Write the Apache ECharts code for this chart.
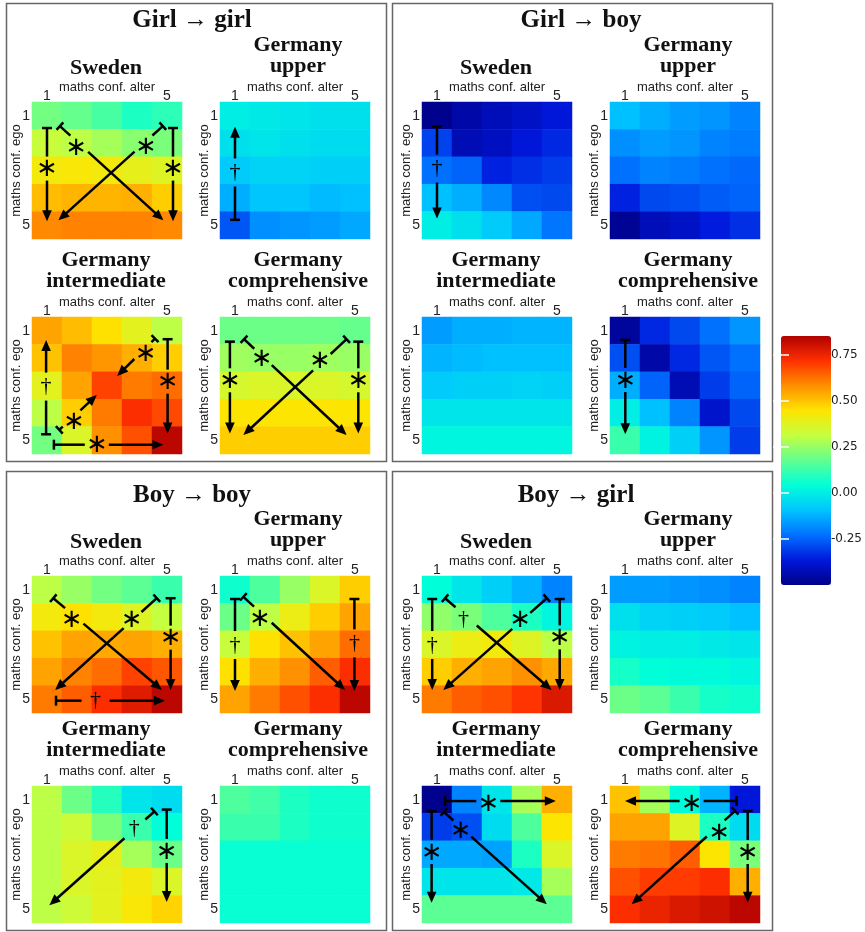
<!DOCTYPE html>
<html><head><meta charset="utf-8">
<script src="https://cdn.jsdelivr.net/npm/echarts@6/dist/echarts.min.js"></script>
<style>html,body{margin:0;padding:0;background:#fff}#c{width:865px;height:932px}</style>
</head><body><div id="c"></div>
<script>
// ---------- data ----------
const categories = ['1', '2', '3', '4', '5'];
const colorbarTicks = [-0.25, 0, 0.25, 0.5, 0.75];
const panelTitles = ['Girl → girl', 'Girl → boy', 'Boy → boy', 'Boy → girl'];
const mapTitles = ['Sweden', 'Germany\nupper', 'Germany\nintermediate', 'Germany\ncomprehensive'];

// rows = maths conf. ego 1..5, columns = maths conf. alter 1..5
const girlGirlSweden = [
  [0.20, 0.18, 0.14, 0.08, 0.10],
  [0.32, 0.30, 0.27, 0.23, 0.21],
  [0.42, 0.43, 0.42, 0.39, 0.37],
  [0.51, 0.52, 0.52, 0.53, 0.48],
  [0.59, 0.60, 0.60, 0.60, 0.59]];
const girlGirlUpper = [
  [0.00, -0.01, -0.02, -0.03, -0.03],
  [-0.03, -0.02, -0.03, -0.04, -0.04],
  [-0.08, -0.06, -0.06, -0.07, -0.07],
  [-0.13, -0.09, -0.09, -0.11, -0.10],
  [-0.27, -0.18, -0.17, -0.16, -0.14]];
const girlGirlIntermediate = [
  [0.55, 0.51, 0.45, 0.38, 0.30],
  [0.50, 0.60, 0.57, 0.53, 0.48],
  [0.38, 0.55, 0.69, 0.61, 0.63],
  [0.30, 0.48, 0.61, 0.72, 0.68],
  [0.20, 0.36, 0.58, 0.67, 0.83]];
const girlGirlComprehensive = [
  [0.19, 0.19, 0.19, 0.19, 0.18],
  [0.26, 0.25, 0.25, 0.26, 0.25],
  [0.35, 0.36, 0.36, 0.36, 0.35],
  [0.44, 0.44, 0.44, 0.44, 0.44],
  [0.48, 0.48, 0.48, 0.48, 0.48]];

const girlBoySweden = [
  [-0.49, -0.45, -0.42, -0.40, -0.37],
  [-0.30, -0.43, -0.41, -0.37, -0.34],
  [-0.23, -0.25, -0.35, -0.33, -0.31],
  [-0.10, -0.13, -0.19, -0.28, -0.29],
  [0.00, -0.03, -0.08, -0.14, -0.22]];
const girlBoyUpper = [
  [-0.10, -0.13, -0.16, -0.17, -0.20],
  [-0.18, -0.16, -0.17, -0.20, -0.21],
  [-0.23, -0.20, -0.21, -0.23, -0.24],
  [-0.35, -0.29, -0.28, -0.26, -0.25],
  [-0.48, -0.42, -0.40, -0.36, -0.33]];
const girlBoyIntermediate = [
  [-0.16, -0.13, -0.13, -0.12, -0.12],
  [-0.12, -0.11, -0.10, -0.10, -0.10],
  [-0.08, -0.07, -0.07, -0.06, -0.07],
  [-0.02, -0.02, -0.02, -0.02, -0.02],
  [0.02, 0.02, 0.02, 0.02, 0.02]];
const girlBoyComprehensive = [
  [-0.47, -0.34, -0.29, -0.23, -0.17],
  [-0.28, -0.45, -0.34, -0.27, -0.23],
  [-0.13, -0.25, -0.43, -0.31, -0.25],
  [0.00, -0.10, -0.20, -0.39, -0.29],
  [0.12, 0.01, -0.07, -0.17, -0.31]];

const boyBoySweden = [
  [0.30, 0.25, 0.20, 0.17, 0.12],
  [0.42, 0.45, 0.42, 0.37, 0.31],
  [0.50, 0.55, 0.54, 0.55, 0.53],
  [0.55, 0.60, 0.63, 0.69, 0.66],
  [0.61, 0.65, 0.72, 0.77, 0.83]];
const boyBoyUpper = [
  [0.06, 0.15, 0.25, 0.36, 0.48],
  [0.19, 0.30, 0.40, 0.48, 0.55],
  [0.32, 0.45, 0.50, 0.55, 0.63],
  [0.45, 0.53, 0.58, 0.65, 0.72],
  [0.55, 0.61, 0.67, 0.72, 0.83]];
const boyBoyIntermediate = [
  [0.30, 0.19, 0.09, -0.02, -0.04],
  [0.30, 0.33, 0.21, 0.12, 0.04],
  [0.30, 0.36, 0.39, 0.27, 0.19],
  [0.30, 0.36, 0.38, 0.42, 0.36],
  [0.30, 0.33, 0.38, 0.43, 0.47]];
const boyBoyComprehensive = [
  [0.15, 0.13, 0.08, 0.06, 0.06],
  [0.12, 0.12, 0.08, 0.06, 0.06],
  [0.05, 0.05, 0.05, 0.05, 0.05],
  [0.05, 0.05, 0.05, 0.05, 0.05],
  [0.05, 0.05, 0.05, 0.05, 0.05]];

const boyGirlSweden = [
  [0.04, -0.02, -0.07, -0.12, -0.20],
  [0.24, 0.21, 0.15, 0.08, 0.02],
  [0.36, 0.40, 0.42, 0.37, 0.30],
  [0.48, 0.53, 0.55, 0.58, 0.54],
  [0.61, 0.65, 0.67, 0.71, 0.78]];
const boyGirlUpper = [
  [-0.16, -0.16, -0.17, -0.18, -0.20],
  [-0.03, -0.06, -0.07, -0.08, -0.10],
  [0.01, 0.00, 0.00, -0.01, -0.02],
  [0.07, 0.04, 0.03, 0.03, 0.02],
  [0.19, 0.17, 0.12, 0.07, 0.06]];
const boyGirlIntermediate = [
  [-0.49, -0.20, -0.02, 0.27, 0.53],
  [-0.31, -0.28, -0.04, 0.15, 0.44],
  [-0.14, -0.14, -0.15, 0.08, 0.36],
  [-0.02, -0.02, -0.02, -0.01, 0.27],
  [0.17, 0.17, 0.17, 0.17, 0.17]];
const boyGirlComprehensive = [
  [0.50, 0.27, 0.03, -0.12, -0.37],
  [0.55, 0.55, 0.37, 0.08, -0.04],
  [0.61, 0.62, 0.65, 0.44, 0.21],
  [0.67, 0.70, 0.70, 0.72, 0.53],
  [0.72, 0.75, 0.78, 0.80, 0.83]];

// significance arrows, in cell-index units (x = alter index, y = ego index)
const ggSwedenMarks = [
  {from: [0, 0.45], to: [0, 3.85], mark: '*', at: [0, 1.93]},
  {from: [4.2, 0.45], to: [4.2, 3.85], mark: '*', at: [4.2, 1.93]},
  {from: [0.43, 0.38], to: [3.88, 3.82], mark: '*', at: [0.97, 1.15]},
  {from: [3.86, 0.38], to: [0.38, 3.82], mark: '*', at: [3.3, 1.12]}];
const ggUpperMarks = [
  {from: [0, 3.8], to: [0, 0.4], mark: '†', at: [0, 2.07]}];
const ggIntermediateMarks = [
  {from: [-0.03, 3.78], to: [-0.03, 0.34], mark: '†', at: [-0.03, 2.04]},
  {from: [4.02, 0.31], to: [4.02, 3.75], mark: '*', at: [4.02, 1.86]},
  {from: [3.6, 0.29], to: [2.34, 1.65], mark: '*', at: [3.29, 0.83]},
  {from: [0.41, 3.62], to: [1.66, 2.35], mark: '*', at: [0.9, 3.3]},
  {from: [0.23, 4.16], to: [3.88, 4.16], mark: '*', at: [1.66, 4.16]}];
const ggComprehensiveMarks = [
  {from: [-0.17, 0.4], to: [-0.17, 3.75], mark: '*', at: [-0.17, 1.81]},
  {from: [4.11, 0.4], to: [4.11, 3.75], mark: '*', at: [4.11, 1.81]},
  {from: [0.3, 0.31], to: [3.72, 3.81], mark: '*', at: [0.89, 1.01]},
  {from: [3.72, 0.31], to: [0.28, 3.81], mark: '*', at: [2.83, 1.07]}];
const gbSwedenMarks = [
  {from: [0, 0.39], to: [0, 3.75], mark: '†', at: [0, 1.93]}];
const gbUpperMarks = [];
const gbIntermediateMarks = [];
const gbComprehensiveMarks = [
  {from: [0.01, 0.34], to: [0.01, 3.78], mark: '*', at: [0.01, 1.8]}];
const bbSwedenMarks = [
  {from: [0.21, 0.31], to: [3.83, 3.66], mark: '*', at: [0.82, 1.07]},
  {from: [3.66, 0.31], to: [0.27, 3.66], mark: '*', at: [2.82, 1.07]},
  {from: [4.12, 0.31], to: [4.12, 3.66], mark: '*', at: [4.12, 1.75]},
  {from: [0.3, 4.05], to: [3.93, 4.05], mark: '†', at: [1.62, 4.05]}];
const bbUpperMarks = [
  {from: [0, 0.34], to: [0, 3.7], mark: '†', at: [0, 2.02]},
  {from: [0.28, 0.26], to: [3.67, 3.66], mark: '*', at: [0.83, 1.03]},
  {from: [3.98, 0.34], to: [3.98, 3.7], mark: '†', at: [3.98, 1.96]}];
const bbIntermediateMarks = [
  {from: [3.58, 0.43], to: [0.08, 3.85], mark: '†', at: [2.91, 1.04]},
  {from: [3.99, 0.36], to: [3.99, 3.73], mark: '*', at: [3.99, 1.87]}];
const bbComprehensiveMarks = [];
const bgSwedenMarks = [
  {from: [-0.16, 0.34], to: [-0.16, 3.66], mark: '†', at: [-0.16, 2.02]},
  {from: [0.27, 0.31], to: [3.82, 3.66], mark: '†', at: [0.88, 1.09]},
  {from: [3.66, 0.31], to: [0.21, 3.66], mark: '*', at: [2.77, 1.09]},
  {from: [4.09, 0.34], to: [4.09, 3.66], mark: '*', at: [4.09, 1.74]}];
const bgUpperMarks = [];
const bgIntermediateMarks = [
  {from: [-0.18, 0.42], to: [-0.18, 3.76], mark: '*', at: [-0.18, 1.91]},
  {from: [0.27, 0.05], to: [3.96, 0.05], mark: '*', at: [1.71, 0.12]},
  {from: [0.23, 0.45], to: [3.66, 3.82], mark: '*', at: [0.79, 1.12]}];
const bgComprehensiveMarks = [
  {from: [3.72, 0.05], to: [0.0, 0.05], mark: '*', at: [2.22, 0.12]},
  {from: [3.67, 0.41], to: [0.22, 3.82], mark: '*', at: [3.14, 1.19]},
  {from: [4.09, 0.41], to: [4.09, 3.76], mark: '*', at: [4.09, 1.91]}];

// ---------- layout ----------
const matrices = [
  [girlGirlSweden, girlGirlUpper, girlGirlIntermediate, girlGirlComprehensive],
  [girlBoySweden, girlBoyUpper, girlBoyIntermediate, girlBoyComprehensive],
  [boyBoySweden, boyBoyUpper, boyBoyIntermediate, boyBoyComprehensive],
  [boyGirlSweden, boyGirlUpper, boyGirlIntermediate, boyGirlComprehensive]];
const marks = [
  [ggSwedenMarks, ggUpperMarks, ggIntermediateMarks, ggComprehensiveMarks],
  [gbSwedenMarks, gbUpperMarks, gbIntermediateMarks, gbComprehensiveMarks],
  [bbSwedenMarks, bbUpperMarks, bbIntermediateMarks, bbComprehensiveMarks],
  [bgSwedenMarks, bgUpperMarks, bgIntermediateMarks, bgComprehensiveMarks]];

const jetColors = ['#000088', '#0018dc', '#0070ff', '#00c4ff', '#00ffd8', '#60ff90',
  '#c4ff40', '#ffe400', '#ff9000', '#ff3000', '#b00000'];

const colLefts = [[32, 220], [422, 610]];
const rowTops = [[102, 317], [576, 786]];
const panelBoxes = [[6, 3, 380, 458], [392, 3, 380, 458], [6, 471, 380, 459], [392, 471, 380, 459]];
const panelTitlePos = [[192, 21], [581, 21], [192, 496], [576, 496]];
const GW = 150, GH = 137;

const grids = [], xAxes = [], yAxes = [], series = [], graphics = [];
const heatIdx = [];
const axisFont = {fontFamily: 'Liberation Sans', color: '#222'};

function renderMarks(list) {
  return function (params, api) {
    const a = list[params.dataIndex];
    const c0 = api.coord([0, 0]);
    const sz = api.size([1, 1]);
    const P = p => [c0[0] + p[0] * sz[0], c0[1] + p[1] * sz[1]];
    const s = P(a.from), e = P(a.to), m = P(a.at);
    const dx = e[0] - s[0], dy = e[1] - s[1], L = Math.hypot(dx, dy);
    const ux = dx / L, uy = dy / L, px = -uy, py = ux;
    const t = (m[0] - s[0]) * ux + (m[1] - s[1]) * uy;
    const gap = a.mark === '†' ? 14 : 12;
    const head = 11, hw = 4.8, tb = 5;
    const stroke = {stroke: '#000', lineWidth: 2.5};
    const ch = [];
    const seg = (t0, t1) => {
      if (t1 > t0 + 0.5) ch.push({type: 'line', shape: {x1: s[0] + ux * t0, y1: s[1] + uy * t0, x2: s[0] + ux * t1, y2: s[1] + uy * t1}, style: stroke});
    };
    seg(0, t - gap);
    seg(t + gap, L - head + 1);
    ch.push({type: 'line', shape: {x1: s[0] + px * tb, y1: s[1] + py * tb, x2: s[0] - px * tb, y2: s[1] - py * tb}, style: {stroke: '#000', lineWidth: 2.5}});
    const bx = e[0] - ux * head, by = e[1] - uy * head;
    ch.push({type: 'polygon', shape: {points: [[e[0], e[1]], [bx + px * hw, by + py * hw], [bx - px * hw, by - py * hw]]}, style: {fill: '#000'}});
    if (a.mark === '*') {
      ch.push({type: 'text', x: m[0], y: m[1] + 1, style: {text: '∗', fill: '#000', align: 'center', verticalAlign: 'middle', font: '26px "DejaVu Sans"'}});
    } else {
      ch.push({type: 'text', x: m[0], y: m[1], style: {text: '†', fill: '#000', align: 'center', verticalAlign: 'middle', font: '22px "Liberation Serif"'}});
    }
    return {type: 'group', children: ch};
  };
}

for (let p = 0; p < 4; p++) {
  const box = panelBoxes[p];
  graphics.push({type: 'rect', shape: {x: box[0] + 0.5, y: box[1] + 0.5, width: box[2], height: box[3]}, style: {fill: 'none', stroke: '#666', lineWidth: 1.5}, z: -1});
  graphics.push({type: 'text', x: panelTitlePos[p][0], y: panelTitlePos[p][1], style: {text: panelTitles[p], fill: '#111', align: 'center', verticalAlign: 'middle', font: 'bold 25px "Liberation Serif"'}});
  for (let m = 0; m < 4; m++) {
    const gi = p * 4 + m;
    const left = colLefts[p % 2][m % 2];
    const top = rowTops[Math.floor(p / 2)][Math.floor(m / 2)];
    grids.push({left: left, top: top, width: GW, height: GH});
    const onlyEnds = (i) => i === 0 || i === 4;
    xAxes.push({gridIndex: gi, type: 'category', data: categories, position: 'top',
      axisLine: {show: false}, axisTick: {show: false}, splitLine: {show: false},
      axisLabel: Object.assign({interval: onlyEnds, margin: -1, fontSize: 14}, axisFont),
      name: 'maths conf. alter', nameLocation: 'middle', nameGap: 8, nameMoveOverlap: false,
      nameTextStyle: Object.assign({fontSize: 13}, axisFont)});
    yAxes.push({gridIndex: gi, type: 'category', data: categories, inverse: true,
      axisLine: {show: false}, axisTick: {show: false}, splitLine: {show: false},
      axisLabel: Object.assign({interval: onlyEnds, margin: 2, fontSize: 14}, axisFont),
      name: 'maths conf. ego', nameLocation: 'middle', nameRotate: 90, nameGap: 9, nameMoveOverlap: false,
      nameTextStyle: Object.assign({fontSize: 13}, axisFont)});
    const M = matrices[p][m];
    const data = [];
    for (let r = 0; r < 5; r++) for (let c = 0; c < 5; c++) data.push([c, r, M[r][c]]);
    heatIdx.push(series.length);
    series.push({type: 'heatmap', xAxisIndex: gi, yAxisIndex: gi, data: data,
      itemStyle: {borderWidth: 0}, emphasis: {disabled: true}, progressive: 0});
    // subplot titles
    const tx = left + GW / 2 + (m % 2 === 1 ? 3 : -1);
    const twoLine = mapTitles[m].indexOf('\n') >= 0;
    graphics.push({type: 'text', x: tx, y: twoLine ? top - 46 : top - 33.5,
      style: {text: mapTitles[m], fill: '#111', align: 'center', verticalAlign: 'middle', lineHeight: 21.5, font: 'bold 22px "Liberation Serif"'}});
  }
}
// significance arrows
for (let p = 0; p < 4; p++) for (let m = 0; m < 4; m++) {
  const list = marks[p][m];
  if (!list.length) continue;
  const gi = p * 4 + m;
  series.push({type: 'custom', coordinateSystem: 'cartesian2d', xAxisIndex: gi, yAxisIndex: gi,
    data: list.map(() => [0, 0]), encode: {x: 0, y: 1}, renderItem: renderMarks(list), z: 10, silent: true});
}

// colour bar axis
grids.push({left: 781, top: 336, width: 50, height: 249});
xAxes.push({gridIndex: 16, type: 'value', show: false, min: 0, max: 1});
const cbTick = {show: true, inside: true, length: 8, lineStyle: {color: '#fff', width: 1.5}, customValues: colorbarTicks};
yAxes.push({gridIndex: 16, type: 'value', min: -0.5, max: 0.85, position: 'right', z: 10,
  axisLine: {show: false}, splitLine: {show: false}, axisTick: cbTick,
  axisLabel: {customValues: colorbarTicks, formatter: v => v.toFixed(2), margin: 2, fontSize: 12, fontFamily: 'DejaVu Sans', color: '#222'}});
yAxes.push({gridIndex: 16, type: 'value', min: -0.5, max: 0.85, position: 'left', z: 10,
  axisLine: {show: false}, splitLine: {show: false}, axisTick: cbTick, axisLabel: {show: false}});

const chart = echarts.init(document.getElementById('c'), null, {renderer: 'canvas'});
chart.setOption({
  animation: false,
  backgroundColor: '#fff',
  grid: grids, xAxis: xAxes, yAxis: yAxes, series: series,
  visualMap: {type: 'continuous', min: -0.5, max: 0.85, seriesIndex: heatIdx, calculable: false,
    left: 781, top: 336, itemWidth: 50, itemHeight: 249, padding: 0, orient: 'vertical',
    inRange: {color: jetColors}, hoverLink: false},
  graphic: graphics
});
</script></body></html>
